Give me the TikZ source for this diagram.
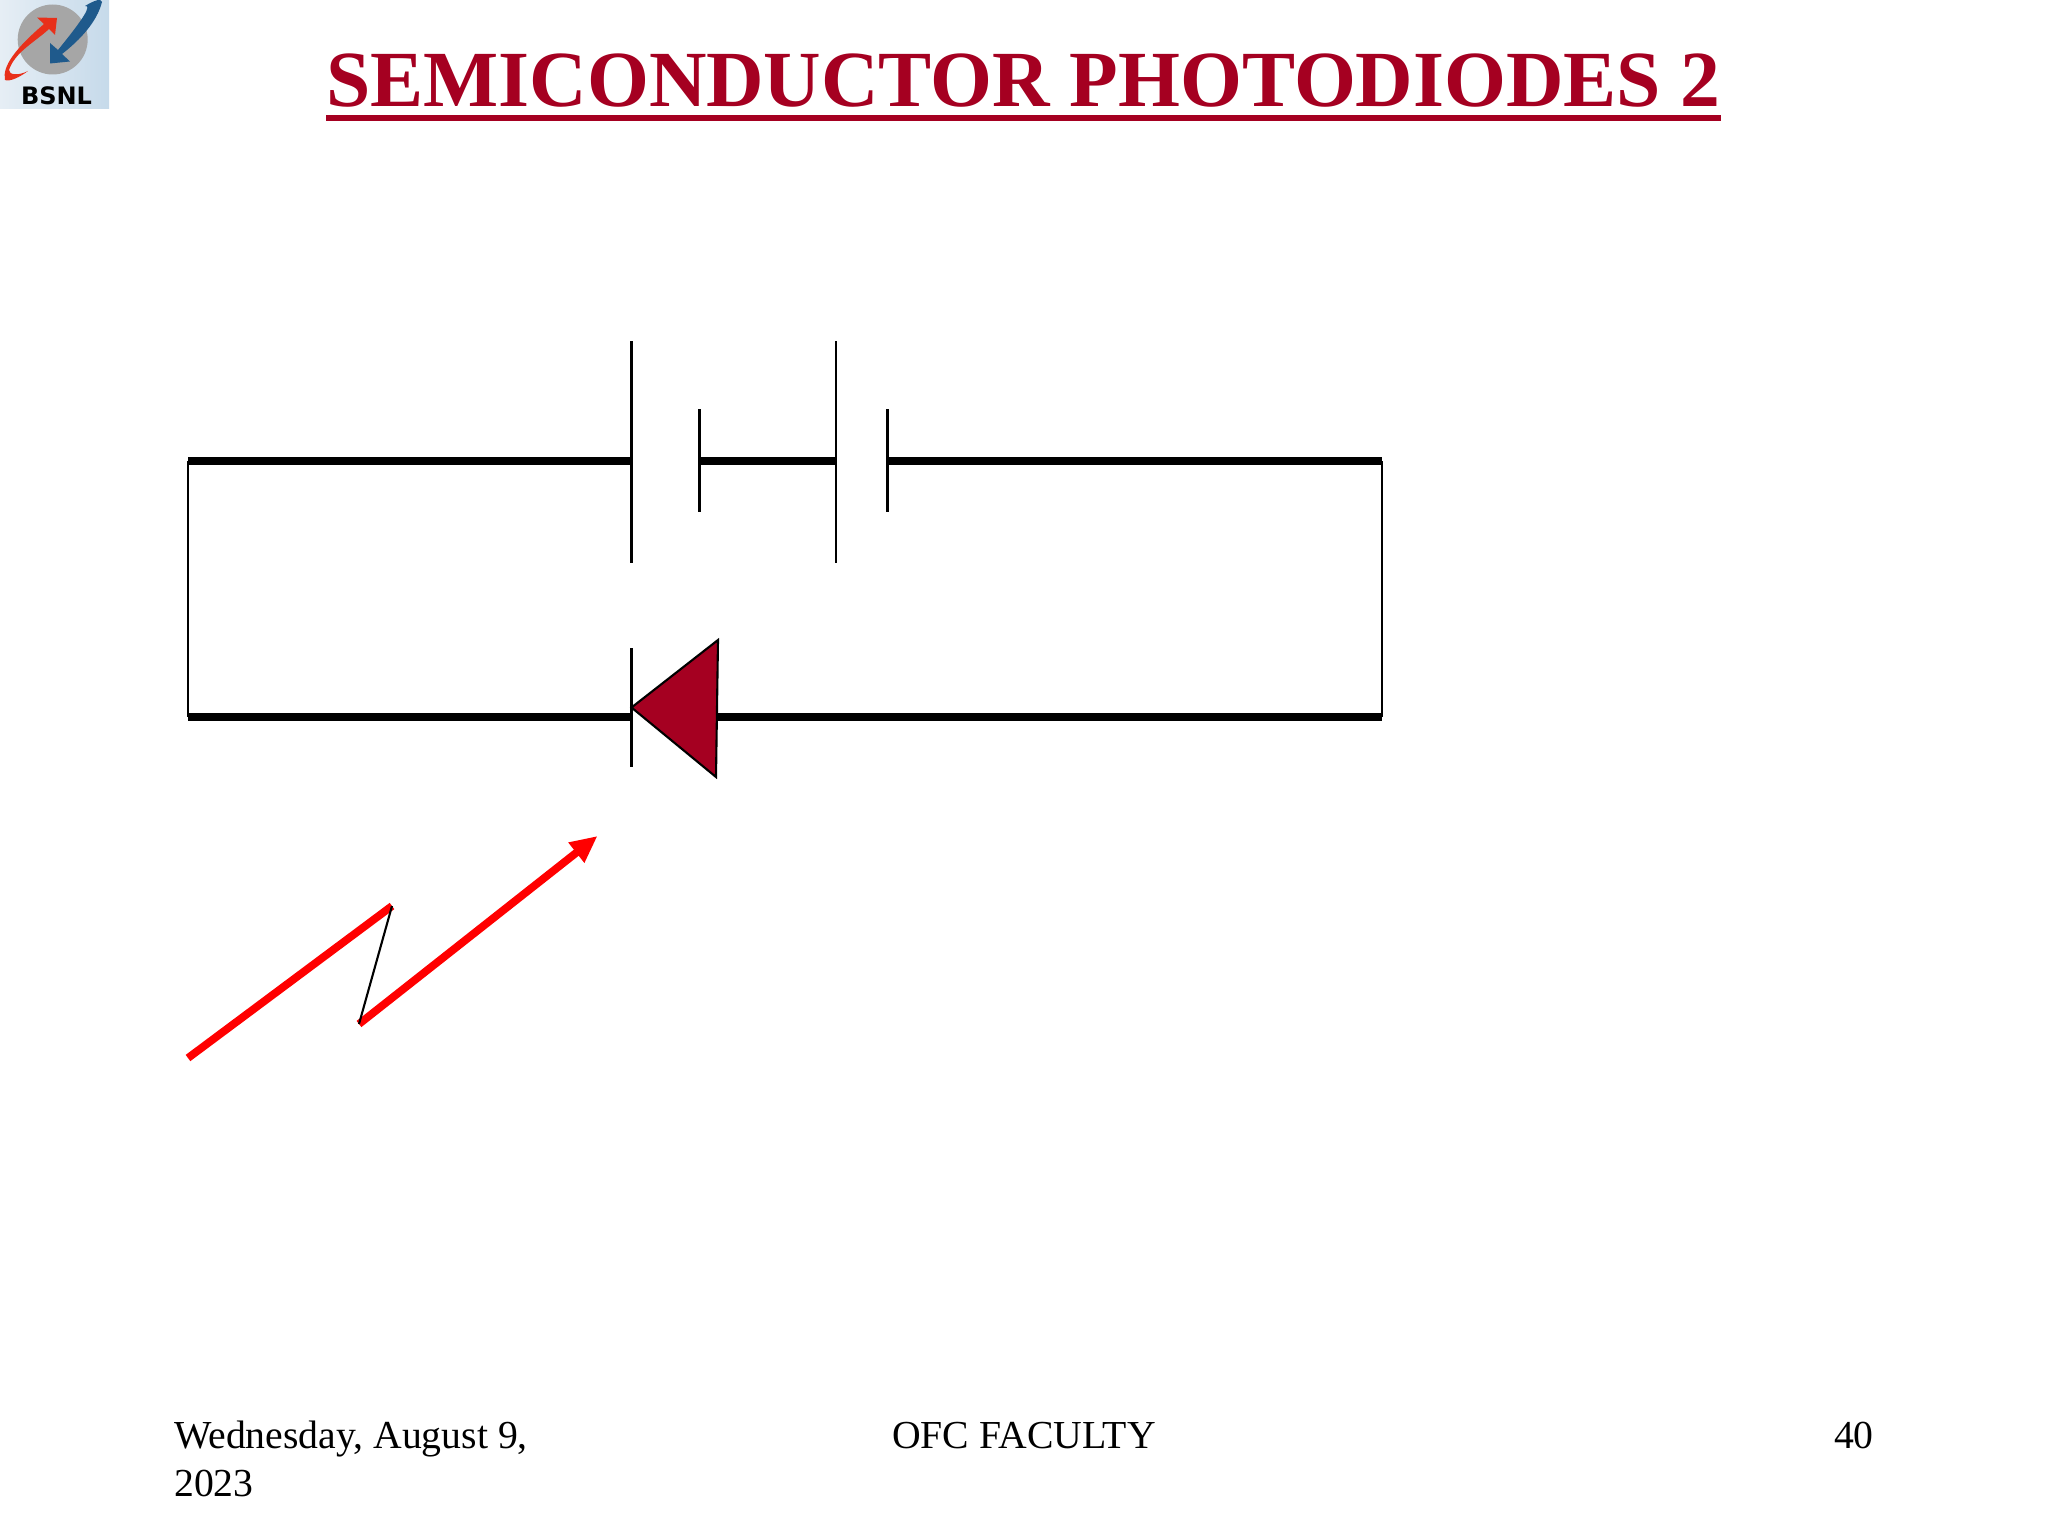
\documentclass[tikz,border=0pt]{standalone}
\usepackage{fontspec}
\setmainfont{Liberation Serif}
\newfontfamily\logofont{DejaVu Sans}
\usetikzlibrary{arrows.meta}
\definecolor{titlered}{HTML}{A50021}
\definecolor{logoblue}{HTML}{1F5A8C}
\definecolor{logored}{HTML}{E8301A}
\definecolor{logoleft}{HTML}{E6EEF5}
\definecolor{logoright}{HTML}{C6DAEA}
\tikzset{
  thickwire/.style={line width=8.5pt,black},
  thinwire/.style={line width=2.1pt,black},
  lightray/.style={line width=7.8pt,red},
  footer/.style={font=\fontsize{39.7}{48}\selectfont,inner sep=0pt}
}
\begin{document}
\begin{tikzpicture}[x=1pt,y=-1pt]
\useasboundingbox (0,0) rectangle (2048,1536);
\fill[white] (0,0) rectangle (2048,1536);
% logo
\shade[left color=logoleft,right color=logoright] (0,0) rectangle (109,109);
\fill[black!35] (52.7,39.5) circle (35);
\fill[logored] (37,17.5) -- (57,18) -- (55,35) -- (49,29) .. controls (35,42) and (15,52) .. (9,70) .. controls (9,75) and (18,76) .. (28,71) .. controls (20,77) and (10,82) .. (5,80) .. controls (2,66) and (16,48) .. (44,24) -- cycle;
\fill[logoblue] (50,43) -- (50,63.5) -- (70,61.5) -- (62,54) .. controls (80,40) and (97,22) .. (102,2) -- (100,0) -- (98,0) .. controls (94,1) and (90,3) .. (85,6) .. controls (92,5) and (84,18) .. (58,50) -- cycle;
\node[font=\logofont\bfseries\fontsize{24}{24}\selectfont,inner sep=0pt] (logo) at (56.5,96) {BSNL};
% title
\node[font=\bfseries\fontsize{79.6}{90}\selectfont,text=titlered,inner sep=0pt,anchor=base] (title) at (1023.5,106.5) {SEMICONDUCTOR PHOTODIODES 2};
\draw[titlered,line width=6.5pt] (326,118) -- (1721,118);
% circuit points
\coordinate (tl) at (188,461);
\coordinate (tr) at (1382,461);
\coordinate (bl) at (188,717);
\coordinate (br) at (1382,717);
\coordinate (p1) at (631.5,461);
\coordinate (p2) at (699.5,461);
\coordinate (p3) at (836,461);
\coordinate (p4) at (887.5,461);
\coordinate (d1) at (631.5,717);
\coordinate (d2) at (717,717);
% wires
\draw[thickwire] (tl) -- (p1);
\draw[thickwire] (p2) -- (p3);
\draw[thickwire] (p4) -- (tr);
\draw[thickwire] (bl) -- (d1);
\draw[thickwire] (d2) -- (br);
\draw[thinwire] (tl) -- (bl);
\draw[thinwire] (tr) -- (br);
% battery plates
\draw[thinwire] (631.5,341) -- (631.5,563);
\draw[thinwire] (699.5,409) -- (699.5,512);
\draw[thinwire] (836,341) -- (836,563);
\draw[thinwire] (887.5,409) -- (887.5,512);
% diode
\draw[thinwire] (631.5,648) -- (631.5,767);
\draw[thinwire,fill=titlered,line join=miter] (631.5,707.5) -- (718,640) -- (716,777) -- cycle;
% light
\coordinate (r1) at (188,1058);
\coordinate (r2) at (392,906);
\coordinate (r3) at (359,1024);
\coordinate (r4) at (597.5,836);
\draw[lightray] (r1) -- (r2);
\draw[lightray,-{Triangle[length=27pt,width=24pt]}] (r3) -- (r4);
\draw[thinwire] (r2) -- (r3);
% footer
\node[footer,anchor=base west] (date) at (174,1448.5) {Wednesday, August 9,};
\node[footer,anchor=base west] (year) at (174,1496.5) {2023};
\node[footer,anchor=base] (fac) at (1024,1448.5) {OFC FACULTY};
\node[footer,anchor=base east] (num) at (1874,1448.5) {40};
\end{tikzpicture}
\end{document}
